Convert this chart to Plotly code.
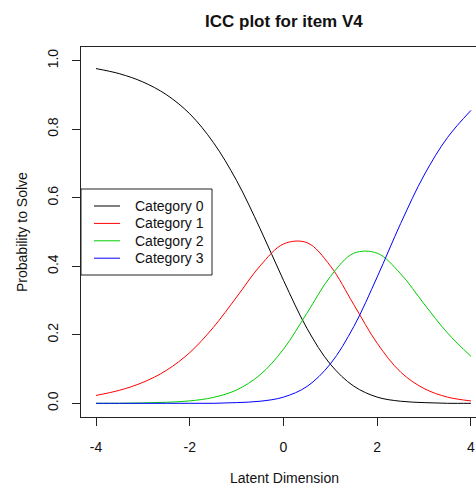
import plotly.graph_objects as go

# Latent dimension grid
theta = [-4.0, -3.5, -3.0, -2.5, -2.0, -1.5, -1.0, -0.5, 0.0, 0.5, 1.0, 1.5, 2.0, 2.5, 3.0, 3.5, 4.0]

# Probabilities
cat0 = [0.977, 0.962, 0.938, 0.901, 0.845, 0.762, 0.650, 0.510, 0.359, 0.219, 0.114, 0.050, 0.018, 0.006, 0.002, 0.000, 0.000]
cat1 = [0.023, 0.038, 0.061, 0.096, 0.148, 0.221, 0.310, 0.401, 0.465, 0.469, 0.401, 0.288, 0.175, 0.091, 0.043, 0.018, 0.007]
cat2 = [0.000, 0.000, 0.001, 0.003, 0.007, 0.017, 0.039, 0.083, 0.158, 0.263, 0.370, 0.438, 0.438, 0.378, 0.290, 0.205, 0.137]
cat3 = [0.000, 0.000, 0.000, 0.000, 0.000, 0.000, 0.002, 0.006, 0.018, 0.049, 0.115, 0.224, 0.369, 0.525, 0.666, 0.776, 0.855]

series_names = ["Category 0", "Category 1", "Category 2", "Category 3"]
series_colors = ["black", "#FF0000", "#00CD00", "#0000FF"]

x_ticks = [-4, -2, 0, 2, 4]
y_ticks = [0.0, 0.2, 0.4, 0.6, 0.8, 1.0]
y_tick_text = ["0.0", "0.2", "0.4", "0.6", "0.8", "1.0"]

FONT = "Liberation Sans, Arial, sans-serif"
TXT = "#111"

fig = go.Figure()
for name, vals, col in zip(series_names, [cat0, cat1, cat2, cat3], series_colors):
    fig.add_trace(go.Scatter(x=theta, y=vals, mode="lines", name=name, showlegend=False,
                             line=dict(color=col, width=1, shape="spline", smoothing=1)))

W, H = 476, 486
L, R, T, B = 81, 0, 47, 69
PW, PH = W - L - R, H - T - B


def px(x):
    return (x - L) / PW


def py(y):
    return (H - B - y) / PH


# Hand-built legend box (R style)
shapes = [dict(type="rect", xref="paper", yref="paper", x0=px(81), x1=px(212), y0=py(275), y1=py(189),
               line=dict(color="#222", width=1), fillcolor="white", layer="above")]
annotations = []
for i, (name, col) in enumerate(zip(series_names, series_colors)):
    yy = 206 + i * 17.4
    shapes.append(dict(type="line", xref="paper", yref="paper", x0=px(94), x1=px(120), y0=py(yy), y1=py(yy),
                       line=dict(color=col, width=1), layer="above"))
    annotations.append(dict(text=name, x=px(133), y=py(yy), xref="paper", yref="paper", showarrow=False,
                            xanchor="left", yanchor="middle", font=dict(size=14, family=FONT, color=TXT)))

annotations += [
    dict(text="<b>ICC plot for item V4</b>", x=px(284), y=py(21),
         xref="paper", yref="paper", showarrow=False, xanchor="center", yanchor="middle",
         font=dict(size=17, family=FONT, color=TXT)),
    dict(text="Latent Dimension", x=px(284), y=py(478),
         xref="paper", yref="paper", showarrow=False, xanchor="center", yanchor="middle",
         font=dict(size=14, family=FONT, color=TXT)),
    dict(text="Probability to Solve", x=px(22), y=0.5, textangle=-90,
         xref="paper", yref="paper", showarrow=False, xanchor="center", yanchor="middle",
         font=dict(size=14, family=FONT, color=TXT)),
]

fig.update_layout(
    width=W, height=H,
    margin=dict(l=L, r=R, t=T, b=B),
    paper_bgcolor="white", plot_bgcolor="white",
    font=dict(family=FONT, size=14, color=TXT),
    showlegend=False,
    xaxis=dict(range=[-4.32, 4.107], tickvals=x_ticks, ticktext=[str(v) for v in x_ticks],
               showgrid=False, zeroline=False, showline=True, linecolor="#222", linewidth=1,
               mirror=True, ticks="outside", ticklen=8, tickcolor="#222", tickwidth=1,
               ticklabelstandoff=9),
    yaxis=dict(range=[-0.04, 1.04], tickvals=y_ticks, ticktext=y_tick_text, tickangle=-90,
               showgrid=False, zeroline=False, showline=True, linecolor="#222", linewidth=1,
               mirror=False, ticks="outside", ticklen=8, tickcolor="#222", tickwidth=1,
               ticklabelstandoff=8),
    shapes=shapes,
    annotations=annotations,
)

fig.write_html("out.html")
